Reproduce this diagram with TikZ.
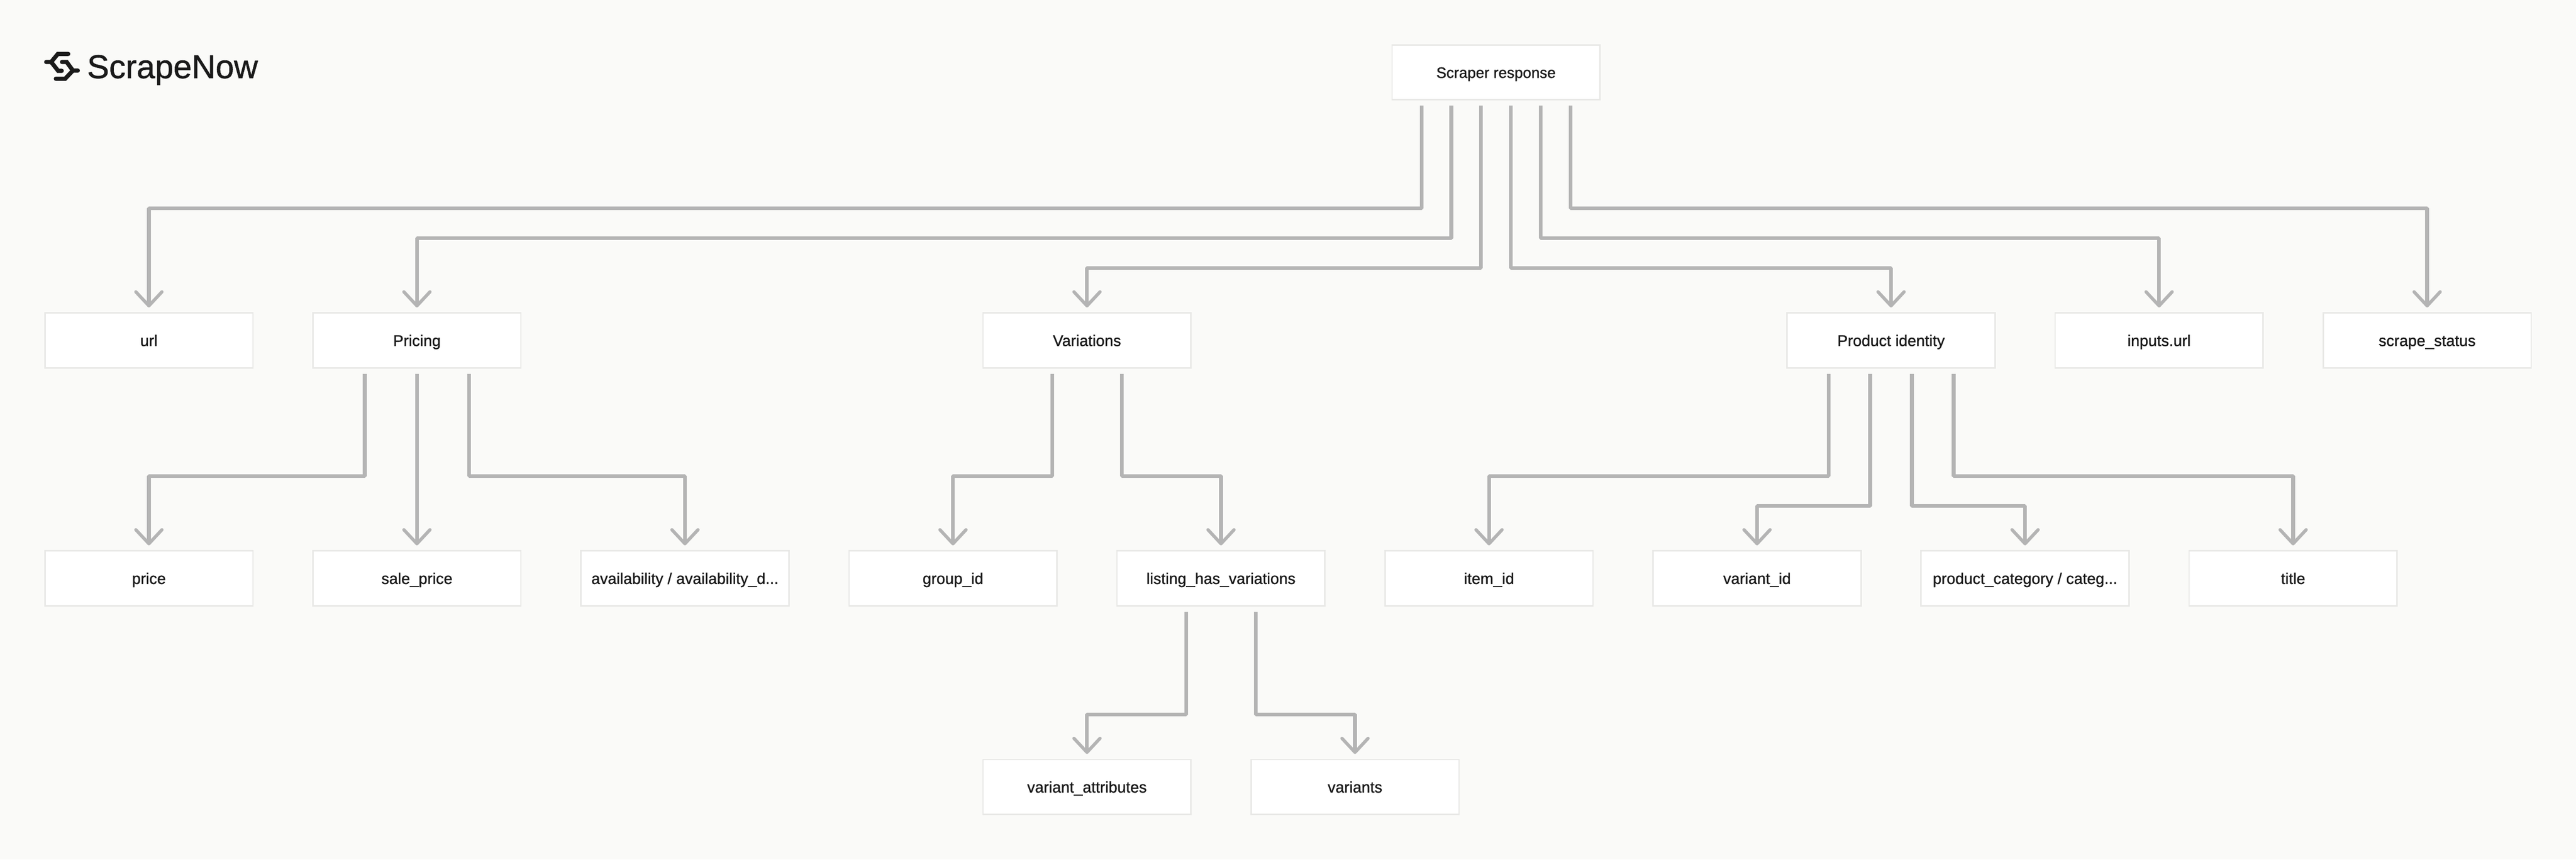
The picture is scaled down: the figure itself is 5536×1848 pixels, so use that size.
\documentclass[tikz,border=0pt]{standalone}
\usepackage{fontspec}
\setmainfont[FakeBold=1]{Liberation Sans}
\usetikzlibrary{arrows.meta}
\definecolor{pagebg}{HTML}{FAFAF8}
\definecolor{linegray}{HTML}{B4B4B4}
\definecolor{boxedge}{HTML}{E8E8E6}
\definecolor{inkdark}{HTML}{1A1A1A}
\tikzset{
  box/.style={draw=boxedge,line width=3pt,fill=white,minimum width=447pt,minimum height=118pt,
    inner sep=0pt,outer sep=0pt,text=inkdark,text height=28pt,text depth=4pt,
    font=\fontsize{33.5}{36}\selectfont},
  connector/.style={draw=linegray,line width=8pt,line join=bevel,line cap=butt,shorten >=12pt,
    -{Straight Barb[length=30pt,width=56pt,round,line width=7pt]}},
  logostroke/.style={draw=inkdark,line width=9pt,line cap=round,line join=miter}
}
\newcommand{\elbow}[4]{\draw[connector] ([xshift=#2pt,yshift=-13pt]#1.south) |- (#3.north |- 0,#4) -- (#3.north);}
\newcommand{\straightlink}[2]{\draw[connector] ([yshift=-13pt]#1.south) -- (#2.north);}
\begin{document}
\begin{tikzpicture}[x=1pt,y=-1pt]
\fill[pagebg] (0,0) rectangle (5536,1848);
\useasboundingbox (0,0) rectangle (5536,1848);
% logo
\draw[logostroke] (146.7,116) -- (124.3,116) -- (110,133.3) -- (99.3,133.3);
\draw[logostroke] (110,133.3) -- (125,152.3) -- (132.7,152.3);
\draw[logostroke] (120,169.3) -- (140,169.3) -- (156.7,151.7) -- (167.3,151.7);
\draw[logostroke] (156.7,151.7) -- (143.3,133.3) -- (133.3,133.3);
\node[anchor=base west,inner sep=0pt,text=inkdark,font=\fontsize{71}{80}\selectfont] (brand) at (187,168) {ScrapeNow};
% boxes
\node[box,font=\fontsize{32.5}{36}\selectfont] (root) at (3215,155.5) {Scraper response};
\node[box] (url) at (320,732) {url};
\node[box] (pricing) at (896,732) {Pricing};
\node[box] (variations) at (2336,732) {Variations};
\node[box] (identity) at (4064,732) {Product identity};
\node[box] (inputs) at (4640,732) {inputs.url};
\node[box] (status) at (5216,732) {scrape\_status};
\node[box] (price) at (320,1243.5) {price};
\node[box] (sale) at (896,1243.5) {sale\_price};
\node[box] (avail) at (1472,1243.5) {availability / availability\_d...};
\node[box] (group) at (2048,1243.5) {group\_id};
\node[box] (listing) at (2624,1243.5) {listing\_has\_variations};
\node[box] (item) at (3200,1243.5) {item\_id};
\node[box] (variant) at (3776,1243.5) {variant\_id};
\node[box] (category) at (4352,1243.5) {product\_category / categ...};
\node[box] (title) at (4928,1243.5) {title};
\node[box] (attrs) at (2336,1692) {variant\_attributes};
\node[box] (variants) at (2912,1692) {variants};
% connectors
\elbow{root}{-160}{url}{448}
\elbow{root}{-96}{pricing}{512}
\elbow{root}{-32}{variations}{576}
\elbow{root}{32}{identity}{576}
\elbow{root}{96}{inputs}{512}
\elbow{root}{160}{status}{448}
\elbow{pricing}{-112}{price}{1024}
\straightlink{pricing}{sale}
\elbow{pricing}{112}{avail}{1024}
\elbow{variations}{-75}{group}{1024}
\elbow{variations}{75}{listing}{1024}
\elbow{identity}{-134.4}{item}{1024}
\elbow{identity}{-44.8}{variant}{1088}
\elbow{identity}{44.8}{category}{1088}
\elbow{identity}{134.4}{title}{1024}
\elbow{listing}{-75}{attrs}{1536}
\elbow{listing}{75}{variants}{1536}
\end{tikzpicture}
\end{document}
